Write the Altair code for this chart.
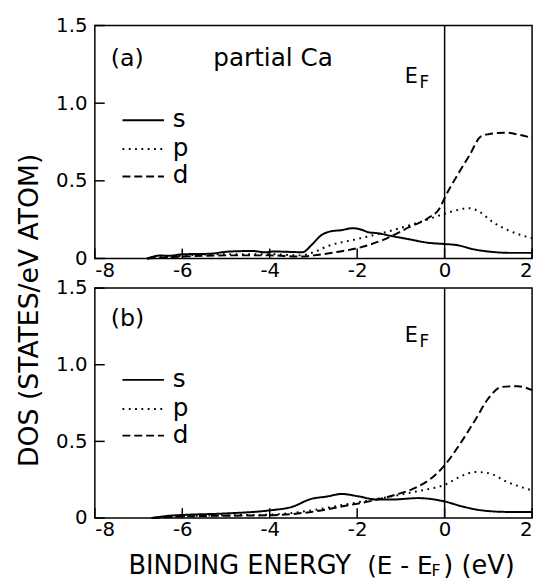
import altair as alt
import pandas as pd

FONT = "DejaVu Sans"

# ---------------- data ----------------
# panel (a)
a_s_x = [-6.8, -6.5, -6.3, -6.0, -5.4, -4.9, -4.4, -4.1, -3.9, -3.5, -3.25, -3.05, -2.82, -2.6, -2.37, -2.1, -1.92, -1.73, -1.54, -1.24, -0.8, -0.4, 0.0, 0.26, 0.7, 1.1, 1.5, 2.0]
a_s_y = [0.0, 0.019, 0.017, 0.027, 0.03, 0.045, 0.048, 0.04, 0.045, 0.042, 0.04, 0.085, 0.15, 0.175, 0.182, 0.195, 0.187, 0.168, 0.163, 0.146, 0.123, 0.102, 0.093, 0.087, 0.057, 0.042, 0.036, 0.036]
a_p_x = [-6.8, -6.0, -5.0, -4.0, -3.3, -3.0, -2.67, -2.0, -1.32, -0.8, -0.4, 0.0, 0.26, 0.56, 0.8, 1.1, 1.47, 2.0]
a_p_y = [0.0, 0.018, 0.028, 0.028, 0.02, 0.04, 0.08, 0.125, 0.172, 0.214, 0.25, 0.288, 0.31, 0.324, 0.30, 0.235, 0.18, 0.13]
a_d_x = [-6.8, -6.0, -5.0, -4.0, -3.3, -3.0, -2.5, -2.0, -1.32, -0.8, -0.4, -0.1, 0.0, 0.3, 0.56, 0.83, 1.0, 1.4, 1.7, 2.0]
a_d_y = [0.0, 0.012, 0.02, 0.02, 0.012, 0.02, 0.04, 0.066, 0.13, 0.203, 0.256, 0.33, 0.39, 0.54, 0.66, 0.786, 0.80, 0.81, 0.797, 0.776]

# panel (b)
b_s_x = [-6.7, -6.3, -6.0, -5.0, -4.0, -3.5, -3.05, -2.7, -2.35, -2.0, -1.55, -1.2, -0.6, 0.0, 0.4, 0.85, 1.45, 2.0]
b_s_y = [0.0, 0.015, 0.02, 0.03, 0.05, 0.072, 0.125, 0.14, 0.157, 0.143, 0.121, 0.121, 0.13, 0.108, 0.076, 0.05, 0.04, 0.04]
b_p_x = [-6.7, -6.0, -5.0, -4.0, -3.05, -2.3, -1.62, -1.18, -0.65, -0.28, 0.0, 0.32, 0.7, 1.0, 1.45, 2.0]
b_p_y = [0.0, 0.012, 0.018, 0.022, 0.05, 0.087, 0.121, 0.143, 0.173, 0.194, 0.216, 0.265, 0.30, 0.293, 0.233, 0.18]
b_d_x = [-6.7, -6.0, -5.0, -4.0, -3.05, -2.3, -1.62, -1.18, -0.65, -0.28, 0.0, 0.32, 0.7, 1.0, 1.3, 1.67, 2.0]
b_d_y = [0.0, 0.01, 0.015, 0.018, 0.04, 0.078, 0.115, 0.147, 0.2, 0.265, 0.344, 0.47, 0.64, 0.78, 0.855, 0.86, 0.834]

orbitals = ["s", "p", "d"]
x_ticks = [-8, -6, -4, -2, 0, 2]
y_ticks = [0, 0.5, 1.0, 1.5]
fermi = [0]

W = 443
DASHES = {"s": [1, 0], "p": [1.8, 4.6], "d": [8, 4]}


def long_df(xs, ys):
    rows = []
    for orb, (xv, yv) in zip(orbitals, zip(xs, ys)):
        for i, (x, y) in enumerate(zip(xv, yv)):
            rows.append({"E": x, "DOS": y, "orb": orb, "i": i})
    return pd.DataFrame(rows)


def panel(df, H, label, extra_title, efx, efy, leg_y, xaxis_title):
    xscale = alt.Scale(domain=[-8, 2], nice=False, zero=False)
    yscale = alt.Scale(domain=[0, 1.5], nice=False, zero=False)
    xaxis = alt.Axis(values=x_ticks, ticks=False, domain=False, grid=False,
                     labelExpr="'' + datum.value", labelFont=FONT, labelFontSize=20,
                     labelColor="black", labelPadding=2, title=None)
    common_y = dict(values=y_ticks, ticks=False, domain=False, grid=False,
                    labelExpr="datum.value == 0 ? '0' : format(datum.value, '.1f')",
                    labelFont=FONT, labelFontSize=20, labelColor="black", labelPadding=8)
    if xaxis_title:
        yaxis = alt.Axis(title="DOS (STATES/eV ATOM)", titleFont=FONT, titleFontSize=27,
                         titleFontWeight="normal", titleColor="black", titleAngle=270,
                         titleX=-66, titleY=22, titleAlign="center", titleBaseline="middle",
                         **common_y)
    else:
        yaxis = alt.Axis(title=None, **common_y)

    lines = alt.Chart(df).mark_line(color="black", strokeWidth=2, interpolate="monotone").encode(
        x=alt.X("E:Q", scale=xscale, axis=xaxis),
        y=alt.Y("DOS:Q", scale=yscale, axis=yaxis),
        strokeDash=alt.StrokeDash("orb:N", scale=alt.Scale(domain=orbitals,
                                  range=[DASHES[o] for o in orbitals]), legend=None),
        detail="orb:N",
        order="i:Q",
    )
    ef_line = alt.Chart(pd.DataFrame({"E": fermi})).mark_rule(color="black", strokeWidth=1.5).encode(
        x=alt.X("E:Q", scale=xscale))
    xt = alt.Chart(pd.DataFrame({"E": x_ticks})).mark_rule(color="black", strokeWidth=1.5).encode(
        x=alt.X("E:Q", scale=xscale), y=alt.value(H), y2=alt.value(H - 10))
    yt = alt.Chart(pd.DataFrame({"DOS": y_ticks})).mark_rule(color="black", strokeWidth=1.5).encode(
        y=alt.Y("DOS:Q", scale=yscale), x=alt.value(0), x2=alt.value(10))

    def txt(s, x, y, size, align="left", baseline="alphabetic"):
        return alt.Chart(pd.DataFrame({"t": [s]})).mark_text(
            font=FONT, fontSize=size, color="black", align=align, baseline=baseline).encode(
            text="t:N", x=alt.value(x), y=alt.value(y))

    layers = [lines, ef_line, xt, yt,
              txt(label, 16, extra_title[1], 24)]
    if extra_title[0]:
        layers.append(txt(extra_title[0], 120, extra_title[1], 25))
    layers += [txt("E", efx, efy, 21), txt("F", efx + 15, efy + 5, 17)]
    for orb, ly in zip(orbitals, leg_y):
        layers.append(alt.Chart(pd.DataFrame({"o": [orb]})).mark_rule(
            color="black", strokeWidth=2, strokeDash=DASHES[orb]).encode(
            x=alt.value(28), x2=alt.value(70), y=alt.value(ly)))
        layers.append(txt(orb, 79, ly + 7, 25))
    if xaxis_title:
        base = H + 57
        layers += [txt("BINDING  ENERGY", 34, base, 26),
                   txt("(E - E", 276, base, 25),
                   txt("F", 341, base + 2, 16),
                   txt(")  (eV)", 353, base, 26)]
    return alt.layer(*layers).properties(width=W, height=H)


dfa = long_df([a_s_x, a_p_x, a_d_x], [a_s_y, a_p_y, a_d_y])
dfb = long_df([b_s_x, b_p_x, b_d_x], [b_s_y, b_p_y, b_d_y])

pa = panel(dfa, 236, "(a)", ("partial  Ca", 41), 314, 58, [96, 125, 153], False)
pb = panel(dfb, 233, "(b)", (None, 38), 314, 55, [93, 122.5, 149.5], True)

chart = alt.vconcat(pa, pb, spacing=30, bounds="flush").properties(
    padding={"left": 7, "top": 3, "right": 0, "bottom": -4},
    background="white",
).configure_view(stroke="black", strokeWidth=1.5).configure_concat(spacing=30)

chart.save("out.html", embed_options={"renderer": "svg", "actions": False})
